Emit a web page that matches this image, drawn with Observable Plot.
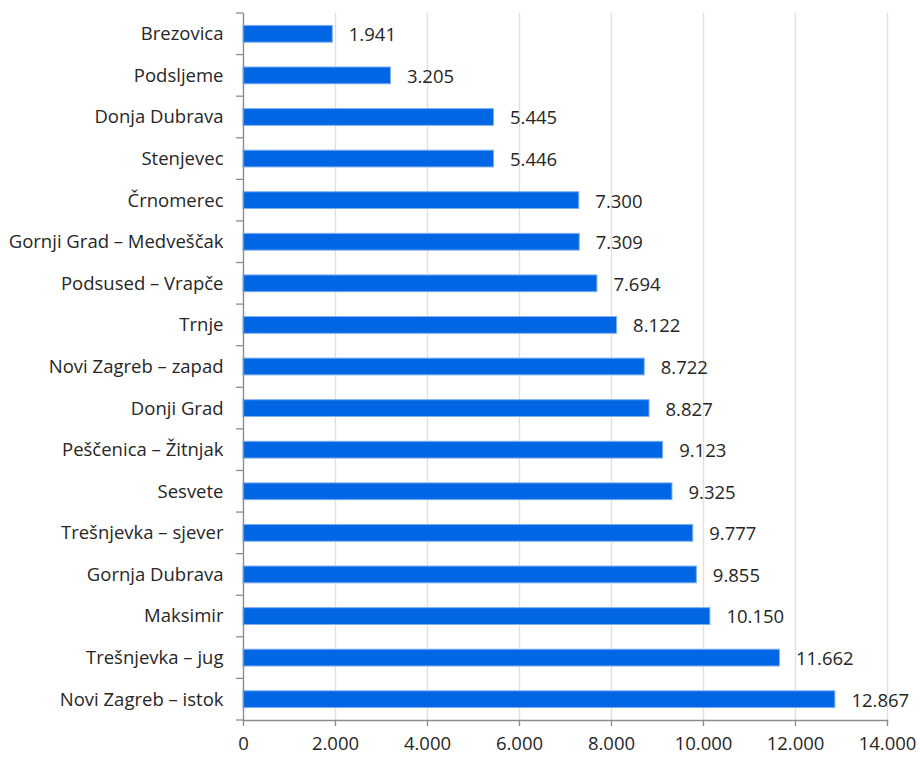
<!DOCTYPE html>
<html>
<head>
<meta charset="utf-8">
<script src="https://cdn.jsdelivr.net/npm/d3@7"></script>
<script src="https://cdn.jsdelivr.net/npm/@observablehq/plot@0.6"></script>
<style>
  html, body { margin: 0; padding: 0; background: #fff; }
  #chart svg { display: block; }
</style>
</head>
<body>
<div id="chart"></div>
<script>
const districts = [
  "Brezovica", "Podsljeme", "Donja Dubrava", "Stenjevec", "Črnomerec",
  "Gornji Grad – Medveščak", "Podsused – Vrapče", "Trnje", "Novi Zagreb – zapad",
  "Donji Grad", "Peščenica – Žitnjak", "Sesvete", "Trešnjevka – sjever",
  "Gornja Dubrava", "Maksimir", "Trešnjevka – jug", "Novi Zagreb – istok"
];
const values = [
  1941, 3205, 5445, 5446, 7300, 7309, 7694, 8122, 8722,
  8827, 9123, 9325, 9777, 9855, 10150, 11662, 12867
];
const xTicks = [0, 2000, 4000, 6000, 8000, 10000, 12000, 14000];

const data = districts.map((d, i) => ({district: d, value: values[i]}));
const fmt = v => v.toLocaleString("de-DE");

const FONT = "'Open Sans', sans-serif";
const TEXT = "#262626";
const FS = 18.5;
const AXIS = "#8c8c8c";

// Excel-style category boundary ticks on the y axis
const boundaryTicks = (index, scales) => {
  const g = d3.create("svg:g");
  const bw = scales.y.bandwidth ? scales.y.bandwidth() : 0;
  const x0 = scales.x(0);
  const ys = districts.map(d => scales.y(d));
  ys.push(ys[ys.length - 1] + bw);
  for (const y of ys) {
    g.append("line")
      .attr("x1", x0 - 7).attr("x2", x0)
      .attr("y1", y).attr("y2", y)
      .attr("stroke", AXIS).attr("stroke-width", 1.3);
  }
  return g.node();
};

const chart = Plot.plot({
  width: 920,
  height: 757,
  marginLeft: 243,
  marginRight: 33,
  marginTop: 13,
  marginBottom: 37,
  style: {fontFamily: FONT, fontSize: FS + "px", color: TEXT, background: "#fff"},
  x: {domain: [0, 14000], ticks: xTicks, tickFormat: fmt, label: null, round: false},
  y: {domain: districts, padding: 0, label: null, round: false},
  marks: [
    Plot.gridX(xTicks, {stroke: "#e3ded9", strokeOpacity: 1, strokeWidth: 1.3}),
    Plot.barX(data, {
      x: "value", y: "district", fill: "#0066e3",
      stroke: "#7fb0ef", strokeWidth: 1,
      insetTop: 12.4, insetBottom: 12.4
    }),
    Plot.text(data, {
      x: "value", y: "district", text: d => fmt(d.value),
      textAnchor: "start", dx: 16, dy: 1, fontSize: FS, fill: TEXT
    }),
    Plot.axisY({tickSize: 0, tickPadding: 20, fontSize: FS, fill: TEXT}),
    Plot.axisX({ticks: xTicks, tickFormat: fmt, tickSize: 6, tickPadding: 10, fontSize: FS, fill: TEXT, stroke: AXIS, strokeWidth: 1.3}),
    Plot.frame({anchor: "bottom", stroke: AXIS, strokeWidth: 1.3}),
    Plot.frame({anchor: "left", stroke: AXIS, strokeWidth: 1.3}),
    boundaryTicks
  ]
});
document.getElementById("chart").append(chart);
</script>
</body>
</html>
